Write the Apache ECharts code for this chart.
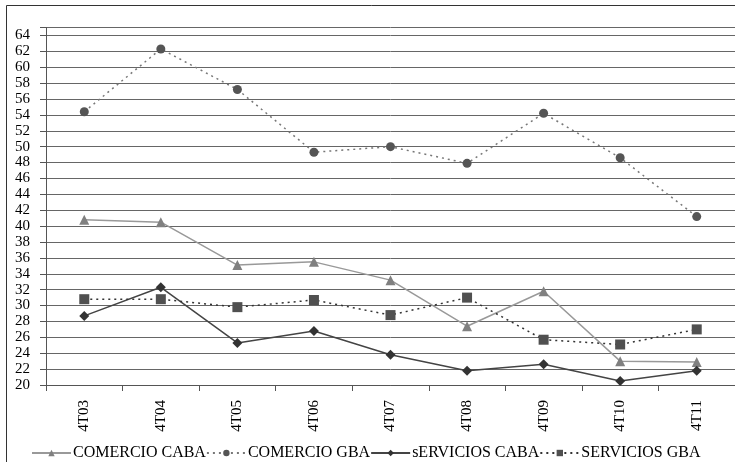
<!DOCTYPE html>
<html>
<head>
<meta charset="utf-8">
<script src="https://cdn.jsdelivr.net/npm/echarts@6/dist/echarts.min.js"></script>
<style>html,body{margin:0;padding:0;background:#fff}#c{width:735px;height:462px}</style>
</head>
<body>
<div id="c"></div>
<script>
var categories = ['4T03','4T04','4T05','4T06','4T07','4T08','4T09','4T10','4T11'];
var comercioCaba = [40.8, 40.5, 35.1, 35.5, 33.2, 27.4, 31.8, 23.0, 22.9];
var comercioGba = [54.4, 62.3, 57.2, 49.3, 50.0, 47.9, 54.2, 48.6, 41.2];
var serviciosCaba = [28.7, 32.3, 25.3, 26.8, 23.8, 21.8, 22.6, 20.5, 21.8];
var serviciosGba = [30.8, 30.8, 29.8, 30.7, 28.8, 31.0, 25.7, 25.1, 27.0];
var seriesNames = ['COMERCIO CABA', 'COMERCIO GBA', 'sERVICIOS CABA', 'SERVICIOS GBA'];

var font = "'Liberation Serif', 'Times New Roman', serif";
var chart = echarts.init(document.getElementById('c'), null, {renderer: 'canvas'});
chart.setOption({
  animation: false,
  backgroundColor: '#fff',
  textStyle: {fontFamily: font},
  graphic: [{
    type: 'rect', silent: true, z: -1,
    shape: {x: 6.5, y: 5.5, width: 900, height: 900},
    style: {fill: 'none', stroke: '#333', lineWidth: 1}
  }],
  grid: {left: 46, right: 0, top: 27.5, bottom: 77, containLabel: false},
  legend: {
    top: 440, left: 26, itemGap: 0, itemWidth: 39, itemHeight: 8,
    textStyle: {fontFamily: font, fontSize: 16, color: '#000', padding: [0, 0, 0, -3]},
    data: seriesNames
  },
  xAxis: {
    type: 'category', data: categories, boundaryGap: true,
    axisLine: {lineStyle: {color: '#555', width: 1}},
    axisTick: {show: true, length: 6, alignWithLabel: false, lineStyle: {color: '#555'}},
    axisLabel: {rotate: 90, margin: 15, fontFamily: font, fontSize: 15, color: '#000'},
    splitLine: {show: false}
  },
  yAxis: {
    type: 'value', min: 20, max: 65, interval: 2,
    axisLine: {show: true, lineStyle: {color: '#555', width: 1}},
    axisTick: {show: true, length: 6, lineStyle: {color: '#555'}},
    axisLabel: {margin: 16, fontFamily: font, fontSize: 15, color: '#000',
      formatter: function (v) { return v === 65 ? '' : v; }},
    splitLine: {show: true, lineStyle: {color: '#666', width: 1}}
  },
  series: [
    {name: seriesNames[0], type: 'line', data: comercioCaba, symbol: 'triangle', symbolSize: 10,
      lineStyle: {color: '#999', width: 1.5, type: 'solid'}, itemStyle: {color: '#808080'}},
    {name: seriesNames[1], type: 'line', data: comercioGba, symbol: 'circle', symbolSize: 9,
      lineStyle: {color: '#777', width: 1.5, type: [2, 4]}, itemStyle: {color: '#555'}},
    {name: seriesNames[2], type: 'line', data: serviciosCaba, symbol: 'diamond', symbolSize: 10,
      lineStyle: {color: '#444', width: 1.5, type: 'solid'}, itemStyle: {color: '#333'}},
    {name: seriesNames[3], type: 'line', data: serviciosGba, symbol: 'rect', symbolSize: 10,
      lineStyle: {color: '#333', width: 1.5, type: [2, 4]}, itemStyle: {color: '#505050'}}
  ]
});
</script>
</body>
</html>
